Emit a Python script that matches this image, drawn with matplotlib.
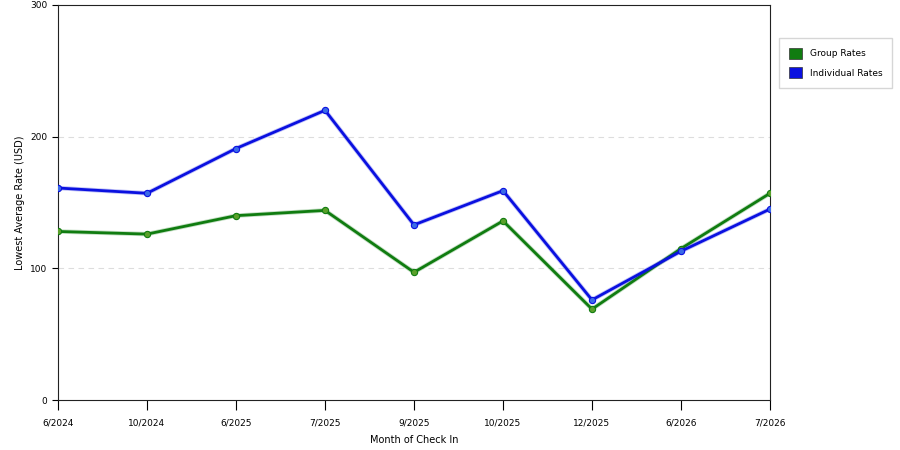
import matplotlib
matplotlib.use("Agg")
import matplotlib.pyplot as plt
from matplotlib.patches import Patch

months = ["6/2024", "10/2024", "6/2025", "7/2025", "9/2025",
          "10/2025", "12/2025", "6/2026", "7/2026"]
group_rates = [128, 126, 140, 144, 97, 136, 69, 115, 157]
individual_rates = [161, 157, 191, 220, 133, 159, 76, 113, 145]

plt.rcParams['font.family'] = ['DejaVu Sans']

fig = plt.figure(figsize=(9, 4.5), dpi=100)
ax = fig.add_axes([58 / 900, 50 / 450, 712 / 900, 395 / 450])

x = list(range(len(months)))
green = "#107c10"
blue = "#0a10e0"

ax.plot(x, group_rates, color=green, lw=3.2, alpha=0.25, zorder=2)
ax.plot(x, group_rates, color=green, lw=2.0, marker="o", ms=4.5,
        mfc="#5aa02a", mec=green, mew=0.8, zorder=3)
ax.plot(x, individual_rates, color=blue, lw=3.2, alpha=0.25, zorder=4)
ax.plot(x, individual_rates, color=blue, lw=2.0, marker="o", ms=4.5,
        mfc="#3a6ae8", mec=blue, mew=0.8, zorder=5)

ax.set_xlim(0, len(months) - 1)
ax.set_ylim(0, 300)
ax.set_xticks(x)
ax.set_xticklabels(months, fontsize=6.5)
ax.set_yticks([0, 100, 200, 300])
ax.tick_params(axis="y", labelsize=6.5, length=4, width=0.8)
ax.tick_params(axis="x", length=7, width=0.8, pad=6)
for y in [100, 200]:
    ax.axhline(y, color="#dddddd", lw=0.8, ls=(0, (5, 4)), zorder=1)

for s in ax.spines.values():
    s.set_linewidth(0.8)
    s.set_color("#222222")

ax.set_xlabel("Month of Check In", fontsize=7, labelpad=6)
ax.set_ylabel("Lowest Average Rate (USD)", fontsize=7, labelpad=4)

handles = [Patch(facecolor=green, edgecolor="#333333", lw=0.5, label="Group Rates"),
           Patch(facecolor=blue, edgecolor="#333333", lw=0.5, label="Individual Rates")]
fig.legend(handles=handles, loc="upper left", bbox_to_anchor=(779 / 900, 1 - 38 / 450),
           fontsize=6.5, frameon=True, fancybox=False, edgecolor="#cccccc",
           handlelength=1.4, handleheight=1.5, borderpad=1.1, labelspacing=0.9,
           handletextpad=0.9, borderaxespad=0)

fig.savefig("out.png", dpi=100)
